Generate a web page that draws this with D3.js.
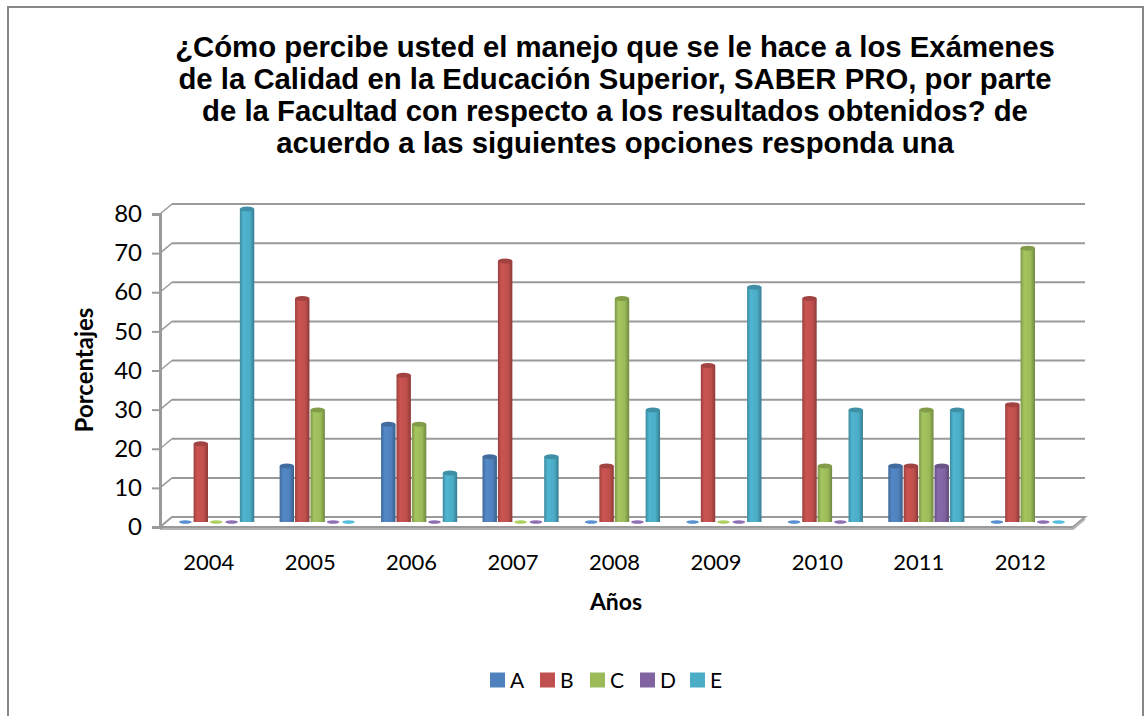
<!DOCTYPE html>
<html>
<head>
<meta charset="utf-8">
<script src="https://cdn.jsdelivr.net/npm/d3@7"></script>
<style>
  body { margin: 0; background: #fff; }
  svg { display: block; }
</style>
</head>
<body>
<div id="chart"></div>
<script>
const WIDTH = 1146;
const HEIGHT = 716;

// data (percentages)
const years = ['2004', '2005', '2006', '2007', '2008', '2009', '2010', '2011', '2012'];
const seriesNames = ['A', 'B', 'C', 'D', 'E'];
const valuesA = [0, 14.3, 25, 16.7, 0, 0, 0, 14.3, 0];
const valuesB = [20, 57.1, 37.5, 66.7, 14.3, 40, 57.1, 14.3, 30];
const valuesC = [0, 28.6, 25, 0, 57.1, 0, 14.3, 28.6, 70];
const valuesD = [0, 0, 0, 0, 0, 0, 0, 14.3, 0];
const valuesE = [80, 0, 12.5, 16.7, 28.6, 60, 28.6, 28.6, 0];
const yTicks = [0, 10, 20, 30, 40, 50, 60, 70, 80];
const colors = ['#4F81BD', '#C0504D', '#9BBB59', '#8064A2', '#4BACC6'];
const titleLines = [
  '¿Cómo percibe usted el manejo que se le hace a los Exámenes',
  'de la Calidad en la Educación Superior, SABER PRO, por parte',
  'de la Facultad con respecto a los resultados obtenidos? de',
  'acuerdo a las siguientes opciones responda una'
];

const allValues = [valuesA, valuesB, valuesC, valuesD, valuesE];
const rows = [];
years.forEach((yr, i) => {
  seriesNames.forEach((s, j) => rows.push({ year: yr, series: s, value: allValues[j][i], color: colors[j] }));
});

// 3d depth offset of the back wall
const DX = 12, DY = -10;
const LABEL_FONT = 'Lato, "Open Sans", sans-serif';

const svg = d3.select('#chart').append('svg')
  .attr('width', WIDTH)
  .attr('height', HEIGHT);

// outer frame
svg.append('rect')
  .attr('x', 8).attr('y', 7)
  .attr('width', 1135).attr('height', 720)
  .attr('fill', '#fff')
  .attr('stroke', '#878787')
  .attr('stroke-width', 2);

// title, font size fitted so the first line is about 880px wide
const title = svg.append('text')
  .attr('text-anchor', 'middle')
  .style('font-family', 'Arial, "Liberation Sans", Helvetica, sans-serif')
  .style('font-weight', 'bold')
  .style('font-size', '24px')
  .attr('fill', '#000');
title.selectAll('tspan')
  .data(titleLines)
  .enter()
  .append('tspan')
  .attr('x', 615)
  .attr('y', (d, i) => 57 + i * 32)
  .text(d => d);
const firstLen = title.select('tspan').node().getComputedTextLength();
if (firstLen > 0) title.style('font-size', (24 * 880 / firstLen).toFixed(2) + 'px');

const x0 = d3.scaleBand()
  .domain(years)
  .range([160, 1073])
  .paddingInner(0.24)
  .paddingOuter(0.12);

const x1 = d3.scaleBand()
  .domain(seriesNames)
  .range([0, x0.bandwidth()]);

const y = d3.scaleLinear()
  .domain([0, 80])
  .range([527, 214]);

const GRID = '#9a9a9a';

// floor
const floor = svg.append('g');
floor.append('path')
  .attr('d', `M${x0.range()[0]},${y(0)} L${x0.range()[1]},${y(0)} L${x0.range()[1] + DX},${y(0) + DY} L${x0.range()[0] + DX},${y(0) + DY} Z`)
  .attr('fill', '#fff')
  .attr('stroke', GRID)
  .attr('stroke-width', 2);
floor.append('path')
  .attr('d', `M${x0.range()[0]},${y(0) + 2} L${x0.range()[1]},${y(0) + 2} L${x0.range()[1] + DX},${y(0) + DY + 2}`)
  .attr('fill', 'none')
  .attr('stroke', '#b5b5b5')
  .attr('stroke-width', 2);

// back wall gridlines and side wall diagonals
const grid = svg.append('g');
grid.selectAll('line.back')
  .data(yTicks.slice(1))
  .enter()
  .append('line')
  .attr('class', 'back')
  .attr('x1', x0.range()[0] + DX)
  .attr('x2', x0.range()[1] + DX)
  .attr('y1', d => y(d) + DY)
  .attr('y2', d => y(d) + DY)
  .attr('stroke', GRID)
  .attr('stroke-width', 2);
grid.selectAll('line.side')
  .data(yTicks.slice(1))
  .enter()
  .append('line')
  .attr('class', 'side')
  .attr('x1', x0.range()[0])
  .attr('x2', x0.range()[0] + DX)
  .attr('y1', d => y(d))
  .attr('y2', d => y(d) + DY)
  .attr('stroke', GRID)
  .attr('stroke-width', 1.5);

// y axis
const yAxis = d3.axisLeft(y).tickValues(yTicks).tickSize(8).tickPadding(10);
const yG = svg.append('g')
  .attr('transform', `translate(${x0.range()[0]},0)`)
  .call(yAxis);
yG.select('.domain').attr('stroke', GRID).attr('stroke-width', 3);
yG.selectAll('.tick line').attr('stroke', GRID).attr('stroke-width', 2);
yG.selectAll('.tick text')
  .attr('font-family', LABEL_FONT)
  .attr('font-size', 24)
  .attr('fill', '#000');

// gradients for column shading
const defs = svg.append('defs');
colors.forEach((c, i) => {
  const g = defs.append('linearGradient')
    .attr('id', 'grad' + i)
    .attr('x1', '0%').attr('x2', '100%')
    .attr('y1', '0%').attr('y2', '0%');
  const base = d3.color(c);
  g.append('stop').attr('offset', '0%').attr('stop-color', base.darker(0.6));
  g.append('stop').attr('offset', '25%').attr('stop-color', base.brighter(0.15));
  g.append('stop').attr('offset', '70%').attr('stop-color', base);
  g.append('stop').attr('offset', '100%').attr('stop-color', base.darker(0.9));
});

// bars, drawn at half depth
const bx = DX / 2, by = DY / 2;
const bars = svg.append('g');
const barW = x1.bandwidth() - 1;

rows.forEach(d => {
  const si = seriesNames.indexOf(d.series);
  const left = x0(d.year) + x1(d.series) + bx;
  const top = y(d.value) + by;
  const bottom = y(0) + by;
  if (d.value > 0) {
    bars.append('rect')
      .attr('x', left)
      .attr('y', top)
      .attr('width', barW)
      .attr('height', bottom - top)
      .attr('fill', `url(#grad${si})`);
    bars.append('ellipse')
      .attr('cx', left + barW / 2)
      .attr('cy', top)
      .attr('rx', barW / 2)
      .attr('ry', 2.5)
      .attr('fill', d3.color(d.color).darker(0.5));
  } else {
    bars.append('ellipse')
      .attr('cx', left + barW / 2)
      .attr('cy', bottom)
      .attr('rx', barW / 2 - 1)
      .attr('ry', 1.8)
      .attr('fill', d3.color(d.color).brighter(0.3));
  }
});

// x axis labels
svg.append('g')
  .selectAll('text')
  .data(years)
  .enter()
  .append('text')
  .attr('x', d => x0(d) + x0.bandwidth() / 2 - 2)
  .attr('y', 570)
  .attr('text-anchor', 'middle')
  .attr('font-family', LABEL_FONT)
  .attr('font-size', 22)
  .text(d => d);

// axis titles
svg.append('text')
  .attr('x', 616)
  .attr('y', 610)
  .attr('text-anchor', 'middle')
  .attr('font-family', LABEL_FONT)
  .attr('font-weight', 'bold')
  .attr('font-size', 23)
  .text('Años');

svg.append('text')
  .attr('transform', 'translate(93,370) rotate(-90)')
  .attr('text-anchor', 'middle')
  .attr('font-family', LABEL_FONT)
  .attr('font-weight', 'bold')
  .attr('font-size', 24)
  .text('Porcentajes');

// legend
const legend = svg.append('g').attr('transform', 'translate(490,680)');
const item = legend.selectAll('g')
  .data(seriesNames)
  .enter()
  .append('g')
  .attr('transform', (d, i) => `translate(${i * 50},0)`);
item.append('rect')
  .attr('x', 0).attr('y', -7.5)
  .attr('width', 15).attr('height', 15)
  .attr('fill', (d, i) => colors[i]);
item.append('text')
  .attr('x', 20)
  .attr('y', 8)
  .attr('font-family', LABEL_FONT)
  .attr('font-size', 21)
  .text(d => d);
</script>
</body>
</html>
